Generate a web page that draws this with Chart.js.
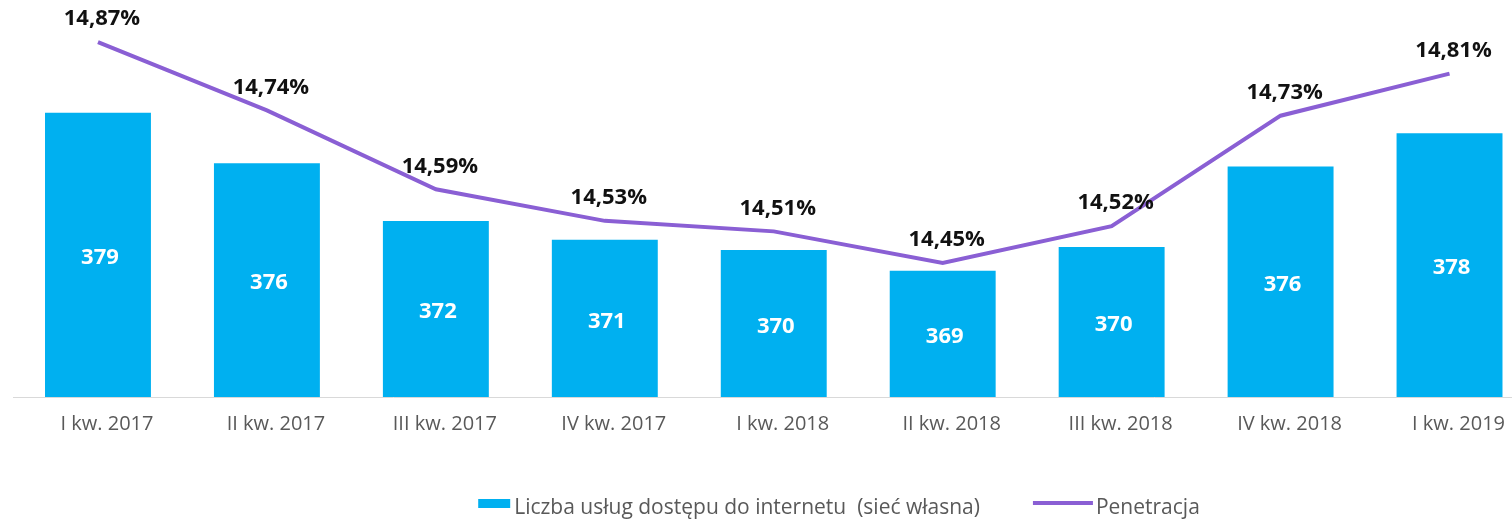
<!DOCTYPE html>
<html>
<head>
<meta charset="utf-8">
<script src="https://cdn.jsdelivr.net/npm/chart.js@4/dist/chart.umd.min.js"></script>
<style>
  html, body { margin: 0; padding: 0; background: #fff; overflow: hidden; }
  #wrap { width: 1540px; height: 521px; }
</style>
</head>
<body>
<div id="wrap"><canvas id="internetChart" width="1540" height="521"></canvas></div>
<script>
// quarters on the x axis
const kwartaly = ['I kw. 2017', 'II kw. 2017', 'III kw. 2017', 'IV kw. 2017', 'I kw. 2018',
                  'II kw. 2018', 'III kw. 2018', 'IV kw. 2018', 'I kw. 2019'];

// services count (thousands), labels shown rounded
const uslugi = [379.0, 375.8, 372.15, 370.95, 370.3, 369.0, 370.49, 375.6, 377.7];

// penetration in %
const penetracja = [14.87, 14.74, 14.59, 14.53, 14.51, 14.45, 14.52, 14.73, 14.81];

const seriesNames = ['Liczba usług dostępu do internetu  (sieć własna)', 'Penetracja'];

const BLUE = '#00B0F0';
const PURPLE = '#8A5FD4';
const GRAY = '#595959';
const FONT = '"Open Sans", "DejaVu Sans", sans-serif';

// value labels on bars and above the line points
const valueLabels = {
    id: 'valueLabels',
    afterDatasetsDraw(chart) {
        const ctx = chart.ctx;
        const bottom = chart.scales.x.top;
        ctx.save();
        ctx.textAlign = 'center';
        ctx.textBaseline = 'middle';
        ctx.font = 'bold 22px ' + FONT;

        const bars = chart.getDatasetMeta(0);
        ctx.fillStyle = '#ffffff';
        bars.data.forEach((el, i) => {
            const p = el.getProps(['x', 'y'], true);
            const txt = String(Math.round(uslugi[i]));
            ctx.fillText(txt, p.x + 2, (p.y + bottom) / 2 + 3);
        });

        const line = chart.getDatasetMeta(1);
        ctx.fillStyle = '#111111';
        line.data.forEach((el, i) => {
            const p = el.getProps(['x', 'y'], true);
            const txt = penetracja[i].toFixed(2).replace('.', ',') + '%';
            ctx.fillText(txt, p.x + 4, p.y - 23);
        });
        ctx.restore();
    }
};

// legend at the bottom (bar box + line sample)
const bottomLegend = {
    id: 'bottomLegend',
    afterDraw(chart) {
        const ctx = chart.ctx;
        ctx.save();
        ctx.font = '21px ' + FONT;
        ctx.textBaseline = 'middle';
        const w1 = 32 + 4 + ctx.measureText(seriesNames[0]).width;
        const w2 = 60 + 3 + ctx.measureText(seriesNames[1]).width;
        const gap = 53;
        let x = 839 - (w1 + gap + w2) / 2;
        const y = 508;

        ctx.fillStyle = BLUE;
        ctx.fillRect(x, y - 9, 32, 9);
        ctx.fillStyle = GRAY;
        ctx.fillText(seriesNames[0], x + 36, y);

        x += w1 + gap;
        ctx.strokeStyle = PURPLE;
        ctx.lineWidth = 4;
        ctx.beginPath();
        ctx.moveTo(x, y - 5);
        ctx.lineTo(x + 60, y - 5);
        ctx.stroke();
        ctx.fillStyle = GRAY;
        ctx.fillText(seriesNames[1], x + 63, y);
        ctx.restore();
    }
};

const ctx = document.getElementById('internetChart').getContext('2d');
const internetChart = new Chart(ctx, {
    type: 'bar',
    data: {
        labels: kwartaly,
        datasets: [{
            type: 'bar',
            label: seriesNames[0],
            data: uslugi,
            backgroundColor: BLUE,
            borderWidth: 0,
            categoryPercentage: 1.0,
            barPercentage: 0.627,
            yAxisID: 'y',
            order: 2
        }, {
            type: 'line',
            label: seriesNames[1],
            data: penetracja,
            borderColor: PURPLE,
            backgroundColor: PURPLE,
            borderWidth: 4,
            pointRadius: 0,
            tension: 0,
            yAxisID: 'y2',
            order: 1
        }]
    },
    options: {
        responsive: false,
        animation: false,
        layout: {
            padding: { left: 13.5, right: 6, top: 10, bottom: 0 }
        },
        plugins: {
            legend: { display: false },
            tooltip: { enabled: false }
        },
        scales: {
            x: {
                grid: { display: false, drawTicks: false },
                border: { display: true, color: '#D9D9D9', width: 1 },
                ticks: {
                    color: GRAY,
                    font: { family: FONT, size: 20 },
                    padding: 15,
                    labelOffset: 9,
                    maxRotation: 0,
                    autoSkip: false
                },
                afterFit(scale) { scale.height = 124; }
            },
            y: {
                display: false,
                min: 361,
                max: 385.5
            },
            y2: {
                display: false,
                position: 'right',
                min: 14.195,
                max: 14.931
            }
        }
    },
    plugins: [valueLabels, bottomLegend]
});
</script>
</body>
</html>
